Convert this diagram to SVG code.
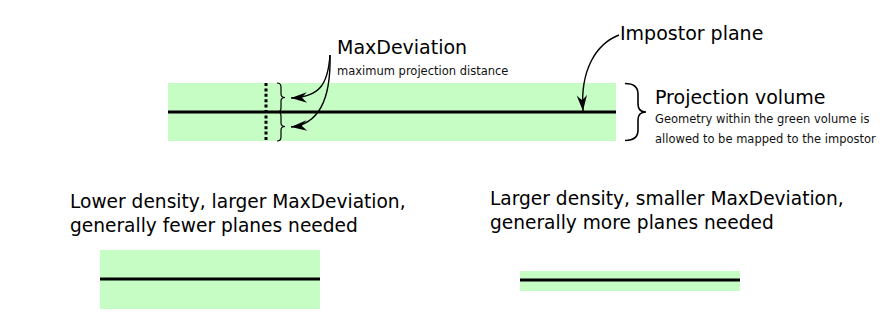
<svg xmlns="http://www.w3.org/2000/svg" width="890" height="320" viewBox="0 0 890 320">
<defs>
<style>
.vol{fill:#c5fdc5;stroke:none}
.plane{stroke:#000;stroke-width:3;fill:none}
.brace{stroke:#000;stroke-width:1.2;fill:none}
.conn{stroke:#000;stroke-width:1.4;fill:none;marker-end:url(#ah)}
.big{font-family:"DejaVu Sans",Verdana,sans-serif;font-size:19px;fill:#000}
.mid{font-family:"DejaVu Sans",Verdana,sans-serif;font-size:18.6px;fill:#000}
.small{font-family:"DejaVu Sans",Verdana,sans-serif;font-size:11.5px;fill:#111}
</style>
<marker id="ah" viewBox="-18 -7 19 14" refX="0" refY="0" markerWidth="19" markerHeight="14" markerUnits="userSpaceOnUse" orient="auto">
<path d="M0,0 L-16,-5.2 Q-12,-1.5 -11,0 Q-12,1.5 -16,5.2 Z" fill="#000"/>
</marker>
</defs>
<rect width="890" height="320" fill="#fff"/>
<g id="projection-volume">
<rect class="vol" x="168" y="83" width="448" height="58"/>
<line class="plane" x1="168" y1="112" x2="616" y2="112"/>
<line x1="266" y1="83" x2="266" y2="141" stroke="#000" stroke-width="3" stroke-dasharray="3,2.4"/>
<path class="brace" d="M277,83 Q281,83 281,87 L281,94 Q281,97.5 285,97.5 Q281,97.5 281,101 L281,108 Q281,112 277,112"/>
<path class="brace" d="M277,112 Q281,112 281,116 L281,123 Q281,126.5 285,126.5 Q281,126.5 281,130 L281,137 Q281,141 277,141"/>
<path d="M625,83.5 Q638,83.5 638,94 L638,104 Q638,112 646,112 Q638,112 638,120 L638,130 Q638,140.5 625,140.5" stroke="#000" stroke-width="1.6" fill="none"/>
</g>
<g id="maxdeviation-label">
<text class="big" x="337" y="54">MaxDeviation</text>
<text class="small" x="337" y="74.5">maximum projection distance</text>
</g>
<g id="impostor-label">
<text class="big" x="620" y="40">Impostor plane</text>
</g>
<g id="projection-label">
<text class="big" x="655" y="104">Projection volume</text>
<text class="small" x="655" y="123">Geometry within the green volume is</text>
<text class="small" x="655" y="143">allowed to be mapped to the impostor</text>
</g>
<g id="low-density">
<text class="mid" x="70" y="208">Lower density, larger MaxDeviation,</text>
<text class="mid" x="70" y="231.5">generally fewer planes needed</text>
<rect class="vol" x="100" y="250" width="220" height="59"/>
<line class="plane" x1="100" y1="279" x2="320" y2="279"/>
</g>
<g id="high-density">
<text class="mid" x="490" y="205">Larger density, smaller MaxDeviation,</text>
<text class="mid" x="490" y="228.5">generally more planes needed</text>
<rect class="vol" x="520" y="271" width="220" height="20"/>
<line class="plane" x1="520" y1="280" x2="740" y2="280"/>
</g>
<g id="connectors">
<path class="conn" d="M330,55 C328,84 320,97 291,98"/>
<path class="conn" d="M330,55 C331,94 322,124 291,127"/>
<path class="conn" d="M619,35 C596,44 580,70 583,111"/>
</g>
</svg>
